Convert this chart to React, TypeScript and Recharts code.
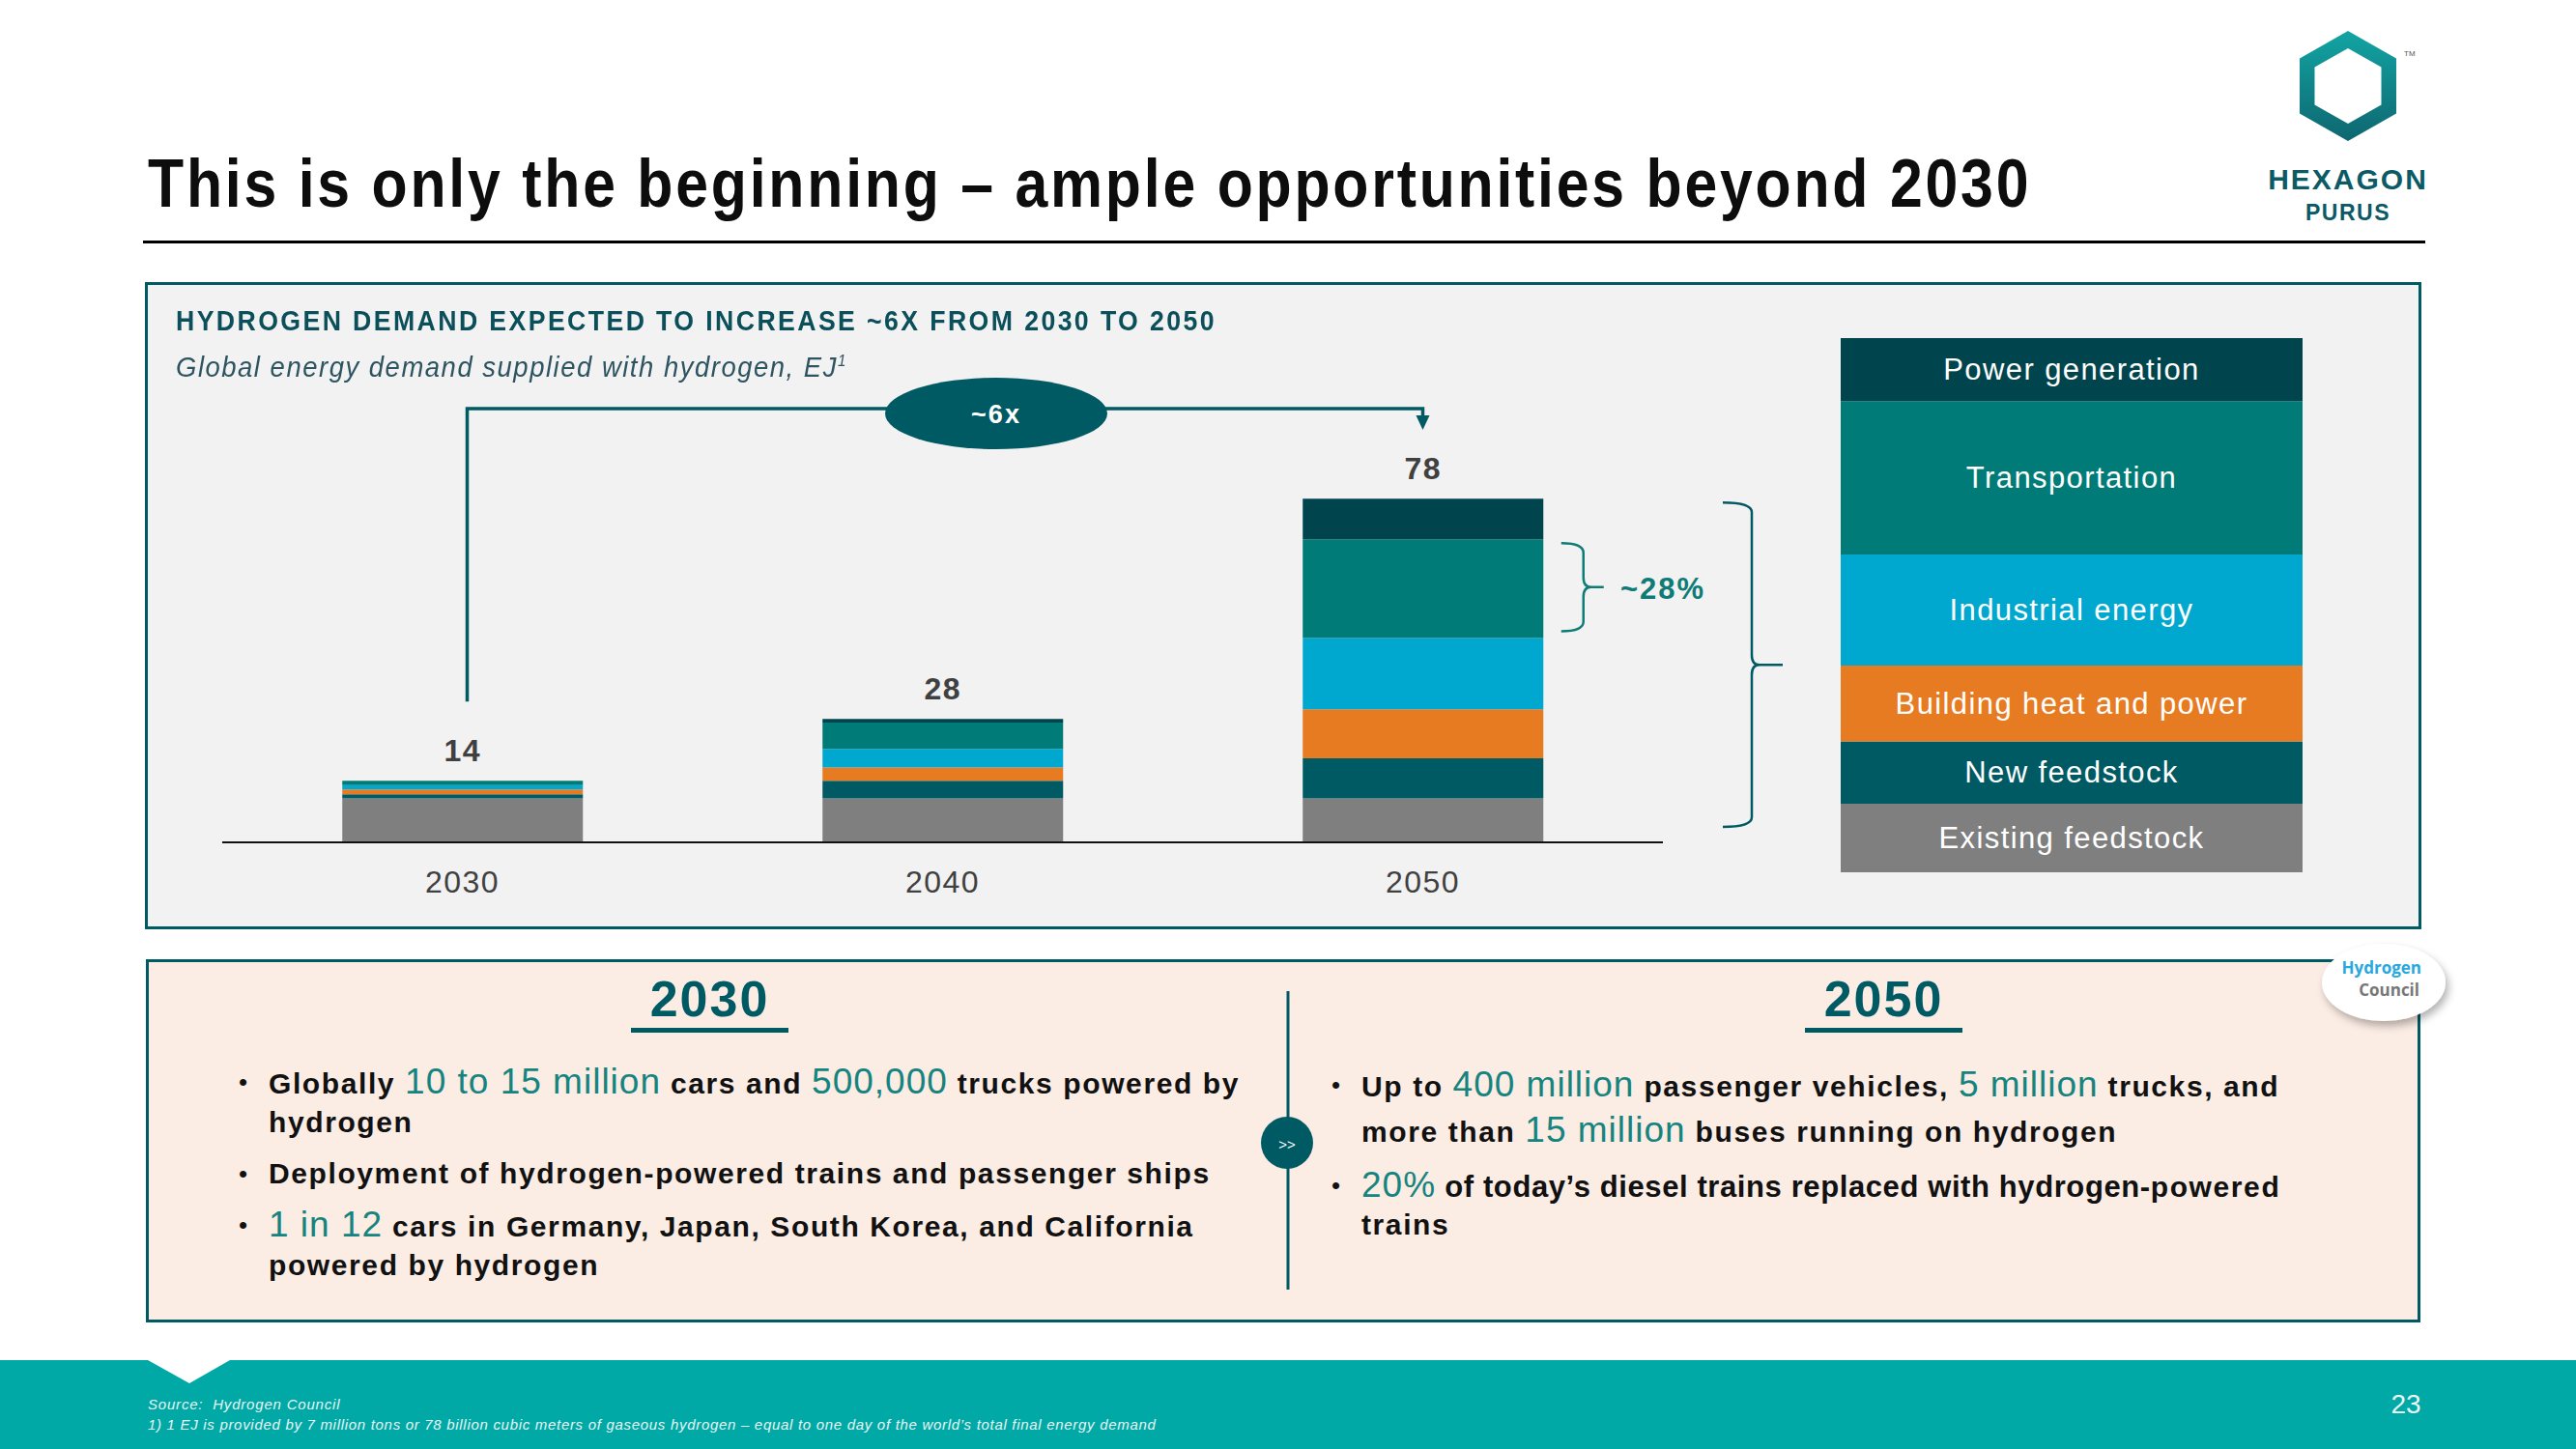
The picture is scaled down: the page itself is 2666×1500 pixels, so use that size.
import React from "react";
import { BarChart, Bar, XAxis, YAxis } from "recharts";

// values (EJ), bottom of the stack first
const years = ["2030", "2040", "2050"];
const existingFeedstock = [10, 10, 10];
const newFeedstock = [0.9, 4, 9.1];
const buildingHeat = [1.1, 3, 11.1];
const industrialEnergy = [1, 4.2, 16.2];
const transportation = [1, 6, 22.4];
const powerGeneration = [0, 0.8, 9.2];
const totals = [14, 28, 78];

const seriesNames = [
  "Existing feedstock",
  "New feedstock",
  "Building heat and power",
  "Industrial energy",
  "Transportation",
  "Power generation",
];
const seriesKeys = ["existing", "newFeed", "building", "industrial", "transport", "power"];
const seriesColors = ["#7F7F7F", "#005A64", "#E77B22", "#00A8CF", "#007B78", "#00444D"];
const seriesValues = [
  existingFeedstock,
  newFeedstock,
  buildingHeat,
  industrialEnergy,
  transportation,
  powerGeneration,
];

const data = years.map((year, i) => {
  const row: Record<string, string | number> = { year };
  seriesKeys.forEach((k, s) => (row[k] = seriesValues[s][i]));
  return row;
});
const legendData = [data[data.length - 1]];

const FONT = "'Liberation Sans Narrow', 'Arial Narrow', 'Liberation Sans', sans-serif";
const TEAL = "#005A64";
const HL = "#15847F";

// chart geometry (page px)
const PLOT_LEFT = 230;
const PLOT_RIGHT = 1721;
const PLOT_TOP = 416;
const PLOT_BOTTOM = 872;
const Y_MAX = 100;
const xMid = (i: number) => PLOT_LEFT + ((PLOT_RIGHT - PLOT_LEFT) / years.length) * (i + 0.5);
const yPx = (v: number) => PLOT_BOTTOM - (v / Y_MAX) * (PLOT_BOTTOM - PLOT_TOP);
const BAR_HALF = (PLOT_RIGHT - PLOT_LEFT) / years.length / 4;

function brace(x0: number, y0: number, y1: number, depth: number, tip: number) {
  const xm = x0 + depth;
  const ym = (y0 + y1) / 2;
  const r = Math.min(10, (y1 - y0) / 6);
  return `M${x0} ${y0} Q${xm} ${y0} ${xm} ${y0 + r} L${xm} ${ym - r} Q${xm} ${ym} ${xm + r * 0.8} ${ym} L${tip} ${ym} M${xm + r * 0.8} ${ym} Q${xm} ${ym} ${xm} ${ym + r} L${xm} ${y1 - r} Q${xm} ${y1} ${x0} ${y1}`;
}

// the slide uses a condensed face; squeeze the installed one horizontally
const Squeeze = ({ k, style, children }: { k: number; style: React.CSSProperties; children: React.ReactNode }) => (
  <div
    style={{
      position: "absolute",
      whiteSpace: "nowrap",
      transform: `scaleX(${k})`,
      transformOrigin: "left center",
      ...style,
    }}
  >
    {children}
  </div>
);

const T = ({ children, hl }: { children: React.ReactNode; hl?: boolean }) => (
  <span
    style={
      hl
        ? { color: HL, fontWeight: 400, fontSize: 37, letterSpacing: 1 }
        : { color: "#111", fontWeight: 700, fontSize: 30, letterSpacing: 1.6 }
    }
  >
    {children}
  </span>
);

const Line = ({ x, y, bullet, children }: { x: number; y: number; bullet?: boolean; children: React.ReactNode }) => (
  <div
    style={{
      position: "absolute",
      left: x,
      top: y - 24,
      height: 48,
      lineHeight: "48px",
      whiteSpace: "nowrap",
      fontFamily: FONT,
    }}
  >
    {bullet && (
      <span style={{ position: "absolute", left: -31, fontSize: 26, color: "#111" }}>•</span>
    )}
    {children}
  </div>
);

export default function App() {
  const sTotal = totals[2];
  // ~28% brace spans the 2050 transportation block
  const tBottom = existingFeedstock[2] + newFeedstock[2] + buildingHeat[2] + industrialEnergy[2];
  const tTop = tBottom + transportation[2];
  return (
    <div
      style={{
        position: "absolute",
        left: 0,
        top: 0,
        width: 2666,
        height: 1500,
        background: "#fff",
        overflow: "hidden",
        fontFamily: FONT,
      }}
    >
      {/* title */}
      <Squeeze
        k={0.868}
        style={{ left: 153, top: 150, fontSize: 70, lineHeight: "80px", fontWeight: 700, letterSpacing: 3.2, color: "#0d0d0d" }}
      >
        This is only the beginning – ample opportunities beyond 2030
      </Squeeze>
      <div style={{ position: "absolute", left: 148, top: 249, width: 2362, height: 3, background: "#000" }} />

      {/* logo */}
      <svg style={{ position: "absolute", left: 2340, top: 20 }} width={200} height={220}>
        <defs>
          <linearGradient id="hexg" x1="0" y1="0" x2="0" y2="1">
            <stop offset="0" stopColor="#12A5A3" />
            <stop offset="1" stopColor="#0E6670" />
          </linearGradient>
        </defs>
        <path
          d="M90 12 L140 40.5 L140 97.5 L90 126 L40 97.5 L40 40.5 Z M90 30 L124.5 49.5 L124.5 88.5 L90 108 L55.5 88.5 L55.5 49.5 Z"
          fill="url(#hexg)"
          fillRule="evenodd"
        />
        <text x={148} y={38} fontSize={8} fill="#555" fontFamily="'Liberation Sans', sans-serif">TM</text>
        <text x={90} y={176} textAnchor="middle" fontSize={30} fontWeight={700} fill="#0C5A66" letterSpacing={2} fontFamily="'Liberation Sans', sans-serif">
          HEXAGON
        </text>
        <text x={90} y={208} textAnchor="middle" fontSize={23} fontWeight={700} fill="#0C5A66" letterSpacing={1.5} fontFamily="'Liberation Sans', sans-serif">
          PURUS
        </text>
      </svg>

      {/* top panel */}
      <div
        style={{
          position: "absolute",
          left: 150,
          top: 292,
          width: 2356 - 6,
          height: 670 - 6,
          border: `3px solid ${TEAL}`,
          background: "#F2F2F2",
        }}
      />
      <Squeeze
        k={0.92}
        style={{ left: 182, top: 314, fontSize: 29, lineHeight: "36px", fontWeight: 700, letterSpacing: 2.6, color: "#0B4F5A" }}
      >
        HYDROGEN DEMAND EXPECTED TO INCREASE ~6X FROM 2030 TO 2050
      </Squeeze>
      <Squeeze
        k={0.947}
        style={{ left: 182, top: 356, fontSize: 29, lineHeight: "36px", fontStyle: "italic", letterSpacing: 1.6, color: "#2D5460" }}
      >
        Global energy demand supplied with hydrogen, EJ<sup style={{ fontSize: 16 }}>1</sup>
      </Squeeze>

      {/* main stacked chart */}
      <div style={{ position: "absolute", left: 0, top: 0 }}>
        <BarChart
          width={1800}
          height={1000}
          data={data}
          margin={{ top: PLOT_TOP, right: 1800 - PLOT_RIGHT, bottom: 68, left: PLOT_LEFT }}
          barCategoryGap="25%"
        >
          <XAxis
            dataKey="year"
            height={60}
            tickLine={false}
            axisLine={{ stroke: "#111", strokeWidth: 2 }}
            tickMargin={23}
            tick={{ fill: "#404040", fontSize: 32, fontFamily: FONT, letterSpacing: 1.5 }}
          />
          <YAxis hide domain={[0, Y_MAX]} />
          {seriesKeys.map((k, s) => (
            <Bar
              key={k}
              dataKey={k}
              name={seriesNames[s]}
              stackId="a"
              fill={seriesColors[s]}
              isAnimationActive={false}
              label={
                s === 0
                  ? (p: any) => {
                      // total sits above the stack: scale the base block's px/unit up to the total
                      const perUnit = p.height / existingFeedstock[p.index];
                      const top = p.y + p.height - totals[p.index] * perUnit;
                      return (
                        <text
                          key={`tot-${p.index}`}
                          x={p.x + p.width / 2}
                          y={top - 31}
                          textAnchor="middle"
                          dominantBaseline="central"
                          fontSize={32}
                          fontWeight={700}
                          fill="#404040"
                          fontFamily={FONT}
                          letterSpacing={1.5}
                        >
                          {totals[p.index]}
                        </text>
                      );
                    }
                  : undefined
              }
            />
          ))}
        </BarChart>
      </div>

      {/* legend drawn as the 2050 stack */}
      <div style={{ position: "absolute", left: 1905, top: 350 }}>
        <BarChart width={478} height={553} data={legendData} margin={{ top: 0, right: 0, bottom: 0, left: 0 }} barCategoryGap={0}>
          <XAxis dataKey="year" hide />
          <YAxis hide domain={[0, sTotal]} />
          {seriesKeys.map((k, s) => (
            <Bar
              key={k}
              dataKey={k}
              stackId="l"
              fill={seriesColors[s]}
              isAnimationActive={false}
              label={(p: any) => (
                <text
                  key={`lg-${k}`}
                  x={p.x + p.width / 2}
                  y={p.y + p.height / 2}
                  textAnchor="middle"
                  dominantBaseline="central"
                  fontSize={31}
                  fill="#fff"
                  fontFamily="'Liberation Sans', sans-serif"
                  letterSpacing={1.4}
                >
                  {seriesNames[s]}
                </text>
              )}
            />
          ))}
        </BarChart>
      </div>

      {/* annotations */}
      <svg style={{ position: "absolute", left: 0, top: 0, pointerEvents: "none" }} width={2666} height={1500}>
        <path
          d={`M${xMid(0) + 5} ${yPx(totals[0]) - 82} L${xMid(0) + 5} 423 L${xMid(2)} 423 L${xMid(2)} 432`}
          fill="none"
          stroke={TEAL}
          strokeWidth={3.5}
        />
        <path d={`M${xMid(2) - 7} 430 L${xMid(2) + 7} 430 L${xMid(2)} 445 Z`} fill={TEAL} />
        <ellipse cx={1031} cy={428} rx={115} ry={37} fill={TEAL} />
        <text x={1031} y={429} textAnchor="middle" dominantBaseline="central" fill="#fff" fontSize={27} fontWeight={700} fontFamily={FONT} letterSpacing={2}>
          ~6x
        </text>
        <path
          d={brace(xMid(2) + BAR_HALF + 19, yPx(tTop) + 4, yPx(tBottom) - 7, 23, xMid(2) + BAR_HALF + 63)}
          fill="none"
          stroke="#0F7B77"
          strokeWidth={2.5}
        />
        <text x={1677} y={609} dominantBaseline="central" fill="#0F7B77" fontSize={31} fontWeight={700} fontFamily={FONT} letterSpacing={2}>
          ~28%
        </text>
        <path
          d={brace(1783, yPx(sTotal) + 4, PLOT_BOTTOM - 16, 30, 1845)}
          fill="none"
          stroke={TEAL}
          strokeWidth={2.5}
        />
      </svg>

      {/* bottom panel */}
      <div
        style={{
          position: "absolute",
          left: 151,
          top: 993,
          width: 2355 - 7,
          height: 377 - 7,
          border: `3.5px solid ${TEAL}`,
          background: "#FBECE4",
        }}
      />
      <div style={{ position: "absolute", left: 653, top: 1008, width: 163, textAlign: "center", fontSize: 52, lineHeight: "52px", fontWeight: 700, color: TEAL, letterSpacing: 2 }}>
        2030
      </div>
      <div style={{ position: "absolute", left: 653, top: 1064, width: 163, height: 5, background: TEAL }} />
      <div style={{ position: "absolute", left: 1868, top: 1008, width: 163, textAlign: "center", fontSize: 52, lineHeight: "52px", fontWeight: 700, color: TEAL, letterSpacing: 2 }}>
        2050
      </div>
      <div style={{ position: "absolute", left: 1868, top: 1064, width: 163, height: 5, background: TEAL }} />

      <Line x={278} y={1120} bullet>
        <T>Globally </T>
        <T hl>10 to 15 million</T>
        <T> cars and </T>
        <T hl>500,000</T>
        <T> trucks powered by</T>
      </Line>
      <Line x={278} y={1162}>
        <T>hydrogen</T>
      </Line>
      <Line x={278} y={1215} bullet>
        <T>Deployment of hydrogen-powered trains and passenger ships</T>
      </Line>
      <Line x={278} y={1268} bullet>
        <T hl>1 in 12</T>
        <T> cars in Germany, Japan, South Korea, and California</T>
      </Line>
      <Line x={278} y={1310}>
        <T>powered by hydrogen</T>
      </Line>

      <Line x={1409} y={1123} bullet>
        <T>Up to </T>
        <T hl>400 million</T>
        <T> passenger vehicles, </T>
        <T hl>5 million</T>
        <T> trucks, and</T>
      </Line>
      <Line x={1409} y={1170}>
        <T>more than </T>
        <T hl>15 million</T>
        <T> buses running on hydrogen</T>
      </Line>
      <Line x={1409} y={1227} bullet>
        <T hl>20%</T>
        <span style={{ color: "#111", fontWeight: 700, fontSize: 31, letterSpacing: 0.6 }}>  of today’s diesel trains replaced with hydrogen-</span>
        <T>powered</T>
      </Line>
      <Line x={1409} y={1268}>
        <T>trains</T>
      </Line>

      <svg style={{ position: "absolute", left: 0, top: 0, pointerEvents: "none" }} width={2666} height={1500}>
        <line x1={1333} y1={1026} x2={1333} y2={1335} stroke={TEAL} strokeWidth={3} />
        <circle cx={1332} cy={1183} r={27} fill={TEAL} />
        <text x={1332} y={1184} textAnchor="middle" dominantBaseline="central" fill="#fff" fontSize={15} fontFamily="'Liberation Sans', sans-serif">
          &gt;&gt;
        </text>
        <defs>
          <filter id="sh" x="-30%" y="-30%" width="160%" height="170%">
            <feDropShadow dx="3" dy="5" stdDeviation="4" floodColor="#000" floodOpacity="0.3" />
          </filter>
        </defs>
        <ellipse cx={2467} cy={1017} rx={64} ry={40} fill="#fff" filter="url(#sh)" />
        <text x={2506} y={1008} textAnchor="end" fontSize={17} fontWeight={700} fill="#29A8E0" fontFamily="'Open Sans', sans-serif">
          Hydrogen
        </text>
        <text x={2504} y={1031} textAnchor="end" fontSize={17} fontWeight={700} fill="#777" fontFamily="'Open Sans', sans-serif">
          Council
        </text>
      </svg>

      {/* footer */}
      <div style={{ position: "absolute", left: 0, top: 1408, width: 2666, height: 92, background: "#00A8A6" }} />
      <svg style={{ position: "absolute", left: 0, top: 1400 }} width={300} height={40}>
        <path d="M153 8 L238 8 L196 32 Z" fill="#fff" />
      </svg>
      <div style={{ position: "absolute", left: 153, top: 1444, fontSize: 15, lineHeight: "20px", fontStyle: "italic", color: "#E6F5F4", letterSpacing: 0.8, whiteSpace: "nowrap" }}>
        Source:&nbsp; Hydrogen Council
      </div>
      <div style={{ position: "absolute", left: 153, top: 1465, fontSize: 15, lineHeight: "20px", fontStyle: "italic", color: "#E6F5F4", letterSpacing: 0.7, whiteSpace: "nowrap" }}>
        1) 1 EJ is provided by 7 million tons or 78 billion cubic meters of gaseous hydrogen – equal to one day of the world’s total final energy demand
      </div>
      <div style={{ position: "absolute", left: 2460, top: 1437, width: 60, textAlign: "center", fontSize: 28, lineHeight: "34px", color: "#EAF6F6", fontFamily: "'Liberation Sans', sans-serif" }}>
        23
      </div>
    </div>
  );
}
